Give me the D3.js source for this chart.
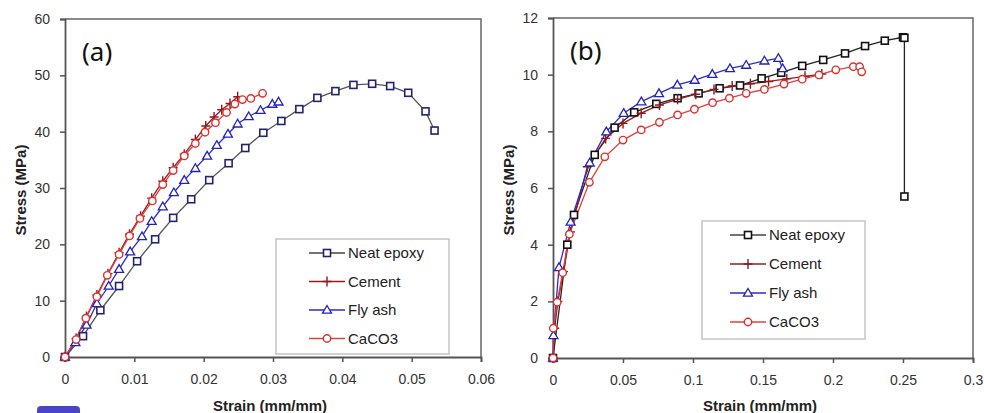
<!DOCTYPE html>
<html>
<head>
<meta charset="utf-8">
<title>Stress-strain curves</title>
<script src="https://cdnjs.cloudflare.com/ajax/libs/d3/7.8.5/d3.min.js"></script>
<style>
  html, body { margin: 0; padding: 0; background: #fff; }
  svg { display: block; font-family: "Liberation Sans", Arial, sans-serif; }
  .tick text { font-size: 14px; fill: #333; }
</style>
</head>
<body>
<svg id="chart" width="984" height="413"></svg>
<script>
// ---- data: panel (a) ----
const seriesNames = ["Neat epoxy", "Cement", "Fly ash", "CaCO3"];

const aEpoxy = [[0,0],[0.0026,3.7],[0.0051,8.3],[0.0078,12.6],[0.0104,17.0],[0.0130,20.9],[0.0156,24.7],
  [0.0182,28.0],[0.0208,31.4],[0.0236,34.4],[0.0260,37.1],[0.0286,39.8],[0.0312,41.9],[0.0338,44.0],
  [0.0364,46.0],[0.0390,47.2],[0.0416,48.3],[0.0443,48.5],[0.0469,48.1],[0.0495,46.9],[0.0520,43.6],[0.0533,40.2]];
const aCement = [[0,0],[0.0016,3.3],[0.0031,7.2],[0.0046,11.0],[0.0062,14.8],[0.0078,18.5],[0.0093,21.8],
  [0.0109,25.0],[0.0125,28.2],[0.0141,31.2],[0.0156,33.6],[0.0172,36.0],[0.0188,38.6],[0.0203,41.0],
  [0.0215,42.6],[0.0226,43.9],[0.0238,45.0],[0.0249,46.2]];
const aFlyash = [[0,0],[0.0015,2.6],[0.0031,5.7],[0.0046,9.5],[0.0063,12.6],[0.0078,15.6],[0.0094,18.7],
  [0.0111,21.4],[0.0125,24.1],[0.0141,26.7],[0.0157,29.2],[0.0172,31.4],[0.0188,33.5],[0.0205,35.7],
  [0.0219,37.6],[0.0235,39.6],[0.0249,41.4],[0.0265,42.7],[0.0282,43.8],[0.0299,44.9],[0.0308,45.3]];
const aCaco3 = [[0,0],[0.0016,3.1],[0.0030,6.9],[0.0046,10.7],[0.0061,14.5],[0.0078,18.2],[0.0093,21.5],
  [0.0108,24.6],[0.0126,27.7],[0.0141,30.6],[0.0156,33.1],[0.0172,35.7],[0.0188,37.9],[0.0202,39.9],
  [0.0217,41.6],[0.0233,43.4],[0.0245,44.9],[0.0256,45.7],[0.0268,45.9],[0.0285,46.8]];

// ---- data: panel (b) ----
const bEpoxy = [[0,0],[0.0102,4.0],[0.0150,5.05],[0.0298,7.17],[0.0440,8.13],[0.0580,8.67],[0.0738,8.97],
  [0.0890,9.17],[0.1040,9.34],[0.1190,9.52],[0.1336,9.62],[0.1490,9.87],[0.1630,10.07],[0.1780,10.31],
  [0.1930,10.52],[0.2086,10.75],[0.2229,11.01],[0.2370,11.2],[0.2500,11.32],[0.2510,11.3],[0.2510,5.7]];
const bCement = [[0,0],[0.0012,1.05],[0.0035,2.0],[0.0075,3.05],[0.0125,4.45],[0.0245,6.75],[0.0376,7.75],
  [0.0500,8.28],[0.0630,8.64],[0.0760,8.93],[0.0890,9.13],[0.1020,9.31],[0.1150,9.48],[0.1280,9.6],
  [0.1410,9.68],[0.1540,9.76],[0.1670,9.85],[0.1800,9.94],[0.1920,10.02]];
const bFlyash = [[0,0],[0.0003,0.8],[0.0043,3.2],[0.0126,4.8],[0.0262,6.89],[0.0381,7.99],[0.0505,8.64],
  [0.0631,9.05],[0.0757,9.34],[0.0888,9.64],[0.1012,9.81],[0.1138,10.02],[0.1264,10.22],[0.1380,10.34],
  [0.1510,10.49],[0.1610,10.58],[0.1640,10.22]];
const bCaco3 = [[0,0],[0.0002,1.05],[0.0030,1.97],[0.0069,3.01],[0.0117,4.37],[0.0260,6.2],[0.0370,7.1],
  [0.0500,7.69],[0.0630,8.05],[0.0760,8.32],[0.0890,8.58],[0.1010,8.78],[0.1140,9.01],[0.1260,9.17],
  [0.1380,9.34],[0.1510,9.48],[0.1650,9.67],[0.1780,9.84],[0.1900,9.99],[0.2020,10.17],[0.2145,10.28],
  [0.2190,10.28],[0.2205,10.1]];

const aXTicks = [0, 0.01, 0.02, 0.03, 0.04, 0.05, 0.06];
const aYTicks = [0, 10, 20, 30, 40, 50, 60];
const bXTicks = [0, 0.05, 0.1, 0.15, 0.2, 0.25, 0.3];
const bYTicks = [0, 2, 4, 6, 8, 10, 12];

const svg = d3.select("#chart");

const styles = [
  { line: "#3a3a3a", mark: "#23236e", shape: "square" },
  { line: "#9b1b22", mark: "#8a1a22", shape: "cross" },
  { line: "#2b2bd0", mark: "#2222b8", shape: "triangle" },
  { line: "#e0403c", mark: "#e0302c", shape: "circle" }
];

function drawMarker(g, shape, color, x, y) {
  if (shape === "square") {
    g.append("rect").attr("x", x - 3.5).attr("y", y - 3.5).attr("width", 7).attr("height", 7)
      .attr("fill", "#fff").attr("stroke", color).attr("stroke-width", 1.6);
  } else if (shape === "circle") {
    g.append("circle").attr("cx", x).attr("cy", y).attr("r", 3.7)
      .attr("fill", "#fff").attr("stroke", color).attr("stroke-width", 1.4);
  } else if (shape === "triangle") {
    g.append("path").attr("d", `M${x},${y - 4.5}L${x + 4.5},${y + 3.2}L${x - 4.5},${y + 3.2}Z`)
      .attr("fill", "#fff").attr("stroke", color).attr("stroke-width", 1.3);
  } else {
    g.append("path").attr("d", `M${x - 4.5},${y}H${x + 4.5}M${x},${y - 5}V${y + 5}`)
      .attr("stroke", color).attr("stroke-width", 1.4);
  }
}

function drawPanel(cfg) {
  const x = d3.scaleLinear().domain(cfg.xDomain).range([cfg.left, cfg.right]);
  const y = d3.scaleLinear().domain(cfg.yDomain).range([cfg.bottom, cfg.top]);
  const g = svg.append("g");

  // frame (top and right)
  g.append("path")
    .attr("d", `M${cfg.left},${cfg.top}H${cfg.right}V${cfg.bottom}`)
    .attr("fill", "none").attr("stroke", "#666").attr("stroke-width", 1.5);

  const xAxis = g.append("g").attr("transform", `translate(0,${cfg.bottom})`)
    .call(d3.axisBottom(x).tickValues(cfg.xTicks).tickSize(5).tickPadding(12).tickFormat(d3.format("~g")));
  const yAxis = g.append("g").attr("transform", `translate(${cfg.left},0)`)
    .call(d3.axisLeft(y).tickValues(cfg.yTicks).tickSize(5).tickPadding(10));
  [xAxis, yAxis].forEach(a => {
    a.select(".domain").attr("stroke", "#555").attr("stroke-width", 1.8);
    a.selectAll(".tick line").attr("stroke", "#555").attr("stroke-width", 1.5);
    a.selectAll(".tick text").attr("font-family", "Liberation Sans, Arial, sans-serif");
  });

  // series
  cfg.series.forEach((data, i) => {
    const st = styles[i];
    g.append("path").datum(data)
      .attr("d", d3.line().x(d => x(d[0])).y(d => y(d[1])))
      .attr("fill", "none").attr("stroke", i === 0 ? cfg.epoxyLine : st.line).attr("stroke-width", 1.3);
  });
  cfg.series.forEach((data, i) => {
    const st = styles[i];
    const mg = g.append("g");
    data.forEach(d => drawMarker(mg, st.shape, i === 0 ? cfg.epoxyMark : st.mark, x(d[0]), y(d[1])));
  });

  // panel label
  g.append("text").attr("x", cfg.left + 17).attr("y", cfg.top + 42)
    .attr("font-family", "Noto Sans, sans-serif").attr("font-size", 26).attr("fill", "#111")
    .text(cfg.label);

  // axis titles
  g.append("text").attr("x", (cfg.left + cfg.right) / 2 - 3).attr("y", 411)
    .attr("text-anchor", "middle").attr("font-weight", "bold").attr("font-size", 15).attr("fill", "#222")
    .text("Strain (mm/mm)");
  g.append("text")
    .attr("transform", `translate(${cfg.left - 39},${(cfg.top + cfg.bottom) / 2 + 2}) rotate(-90)`)
    .attr("text-anchor", "middle").attr("font-weight", "bold").attr("font-size", 15).attr("fill", "#222")
    .text("Stress (MPa)");

  // legend
  const L = cfg.legend;
  g.append("rect").attr("x", L.x).attr("y", L.y).attr("width", L.w).attr("height", L.h)
    .attr("fill", "#fff").attr("stroke", "#c4c4c4").attr("stroke-width", 1.5);
  seriesNames.forEach((name, i) => {
    const st = styles[i];
    const yy = L.y + 14 + i * L.step;
    g.append("line").attr("x1", L.x + L.lineX).attr("x2", L.x + L.lineX + 36).attr("y1", yy).attr("y2", yy)
      .attr("stroke", i === 0 ? "#444" : st.line).attr("stroke-width", 1.4);
    drawMarker(g, st.shape, i === 0 ? cfg.epoxyMark : st.mark, L.x + L.lineX + 18, yy);
    g.append("text").attr("x", L.x + L.lineX + 39).attr("y", yy + 5)
      .attr("font-size", 15).attr("fill", "#222").text(name);
  });
}

drawPanel({
  left: 65, right: 481, top: 19, bottom: 357,
  xDomain: [0, 0.06], yDomain: [0, 60], xTicks: aXTicks, yTicks: aYTicks,
  series: [aEpoxy, aCement, aFlyash, aCaco3],
  epoxyLine: "#555", epoxyMark: "#23236e", label: "(a)",
  legend: { x: 276, y: 239, w: 173, h: 115, step: 28.5, lineX: 33 }
});

drawPanel({
  left: 553, right: 973, top: 18, bottom: 358,
  xDomain: [0, 0.3], yDomain: [0, 12], xTicks: bXTicks, yTicks: bYTicks,
  series: [bEpoxy, bCement, bFlyash, bCaco3],
  epoxyLine: "#222", epoxyMark: "#111", label: "(b)",
  legend: { x: 702, y: 221, w: 163, h: 118, step: 29, lineX: 28 }
});

// blue tab at the bottom-left edge
svg.append("rect").attr("x", 37).attr("y", 406).attr("width", 43).attr("height", 14).attr("rx", 4)
  .attr("fill", "#4a45c8");
</script>
</body>
</html>
